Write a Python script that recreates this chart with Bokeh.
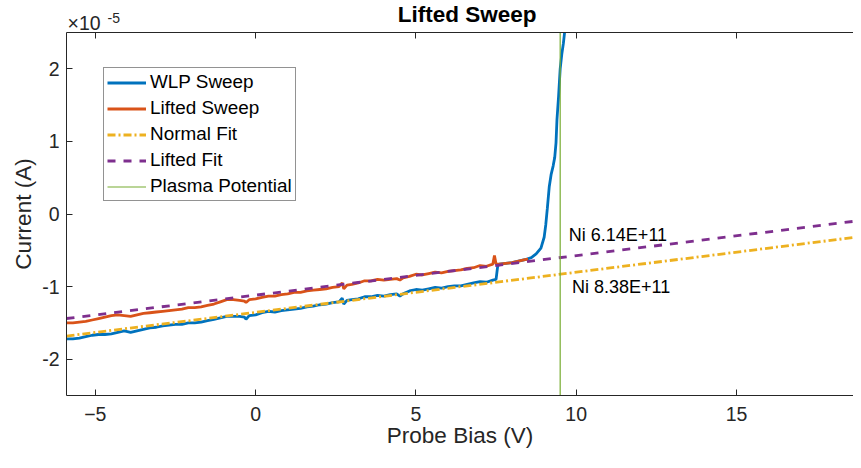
import numpy as np
from bokeh.plotting import figure
from bokeh.layouts import column
from bokeh.models import (Range1d, FixedTicker, CustomJSTickFormatter, LinearAxis,
                          Legend, LegendItem, Label)
from bokeh.embed import file_html
from bokeh.resources import INLINE

# ---------------- data ----------------
CUR_UNIT = 1e-5  # currents below are in units of 1e-5 A

wlp_v = [-5.9, -5.7, -5.5, -5.3, -5.1, -4.9, -4.7, -4.5, -4.3, -4.1, -3.9, -3.7, -3.5, -3.3,
         -3.1, -2.9, -2.7, -2.5, -2.3, -2.1, -1.9, -1.7, -1.5, -1.3, -1.1, -0.9, -0.7, -0.5,
         -0.35, -0.3, -0.2, 0.0, 0.2, 0.4, 0.6, 0.8, 1.0, 1.2, 1.4, 1.6, 1.8, 2.0, 2.2, 2.4,
         2.6, 2.7, 2.75, 2.85, 3.0, 3.2, 3.4, 3.6, 3.8, 4.0, 4.2, 4.4, 4.5, 4.6, 4.8, 5.0,
         5.2, 5.4, 5.6, 5.8, 6.0, 6.2, 6.4, 6.6, 6.8, 7.0, 7.2, 7.4, 7.5, 7.55, 7.6, 7.8,
         8.0, 8.2, 8.4, 8.6, 8.75, 8.9, 9.0, 9.05, 9.1, 9.16, 9.22, 9.28, 9.33, 9.37, 9.4,
         9.45, 9.5, 9.55, 9.6, 9.65, 9.7]
wlp_i = [-1.72, -1.72, -1.71, -1.69, -1.67, -1.66, -1.66, -1.65, -1.63, -1.61, -1.63, -1.61,
         -1.59, -1.57, -1.56, -1.54, -1.53, -1.52, -1.52, -1.50, -1.50, -1.49, -1.47, -1.45,
         -1.43, -1.41, -1.41, -1.41, -1.42, -1.45, -1.40, -1.39, -1.36, -1.34, -1.35, -1.33,
         -1.32, -1.31, -1.30, -1.28, -1.27, -1.25, -1.24, -1.22, -1.21, -1.16, -1.24, -1.19,
         -1.18, -1.17, -1.14, -1.14, -1.12, -1.13, -1.11, -1.10, -1.13, -1.10, -1.06, -1.04,
         -1.05, -1.03, -1.01, -1.02, -1.00, -0.99, -0.99, -0.97, -0.95, -0.93, -0.94, -0.91,
         -0.90, -0.72, -0.69, -0.68, -0.67, -0.65, -0.63, -0.60, -0.55, -0.47, -0.32, -0.15,
         0.08, 0.38, 0.55, 0.66, 0.78, 0.98, 1.30, 1.62, 2.00, 2.20, 2.35, 2.55, 2.90]

lifted_v = [-5.9, -5.7, -5.5, -5.3, -5.1, -4.9, -4.7, -4.5, -4.3, -4.1, -3.9, -3.7, -3.5, -3.3,
            -3.1, -2.9, -2.7, -2.5, -2.3, -2.1, -1.9, -1.7, -1.5, -1.3, -1.1, -0.9, -0.7, -0.5,
            -0.35, -0.3, -0.2, 0.0, 0.2, 0.4, 0.6, 0.8, 1.0, 1.2, 1.4, 1.6, 1.8, 2.0, 2.2, 2.4,
            2.6, 2.7, 2.75, 2.85, 3.0, 3.2, 3.4, 3.6, 3.8, 4.0, 4.2, 4.4, 4.5, 4.6, 4.8, 5.0,
            5.2, 5.4, 5.6, 5.8, 6.0, 6.2, 6.4, 6.6, 6.8, 7.0, 7.2, 7.4, 7.45, 7.5, 7.6, 7.8,
            8.0, 8.2, 8.4, 8.5]
lifted_i = [-1.50, -1.50, -1.49, -1.48, -1.46, -1.44, -1.42, -1.40, -1.39, -1.40, -1.41, -1.39,
            -1.37, -1.36, -1.35, -1.34, -1.33, -1.32, -1.31, -1.29, -1.29, -1.28, -1.26, -1.24,
            -1.21, -1.18, -1.18, -1.19, -1.20, -1.22, -1.18, -1.17, -1.15, -1.13, -1.13, -1.11,
            -1.10, -1.08, -1.08, -1.06, -1.05, -1.04, -1.03, -1.01, -1.00, -0.95, -1.03, -0.98,
            -0.97, -0.95, -0.92, -0.92, -0.90, -0.91, -0.90, -0.89, -0.91, -0.88, -0.86, -0.83,
            -0.84, -0.82, -0.80, -0.81, -0.79, -0.78, -0.77, -0.75, -0.74, -0.71, -0.72, -0.69,
            -0.57, -0.69, -0.69, -0.68, -0.67, -0.65, -0.63, -0.62]

normal_fit_slope, normal_fit_intercept = 0.0553, -1.355   # 1e-5 A per V, 1e-5 A
lifted_fit_slope, lifted_fit_intercept = 0.0545, -1.118
plasma_potential = 9.5

annotations = [("Ni 6.14E+11", 9.77, -0.29), ("Ni 8.38E+11", 9.87, -1.01)]

title_text = "Lifted Sweep"
multiplier_base, multiplier_exp = "×10", "-5"

x_min, x_max = -5.9, 18.65
y_min, y_max = -2.5, 2.5
x_ticks = [-5, 0, 5, 10, 15]
y_ticks = [-2, -1, 0, 1, 2]

# ---------------- colours / fonts / layout ----------------
C_BLUE, C_ORANGE, C_YELLOW, C_PURPLE, C_GREEN = "#0072BD", "#D95319", "#EDB120", "#7E2F8E", "#77AC30"
AX = "#262626"
FONT = "Liberation Sans"

W = 853
HEAD_H = 32          # band above the axes box (title + exponent), pixel units
MAIN_H = 420
BL, BB = 66, 57
TITLE_X = 6.6        # horizontal centre of the title, in x data units

x_range = Range1d(x_min, x_max)

# ---------------- main axes ----------------
p = figure(width=W, height=MAIN_H, output_backend="svg", toolbar_location=None,
           x_range=x_range, y_range=Range1d(y_min * CUR_UNIT, y_max * CUR_UNIT),
           min_border_left=BL, min_border_right=0, min_border_top=0, min_border_bottom=BB)
p.outline_line_color = None
p.grid.visible = False
p.background_fill_color = "white"
p.border_fill_color = "white"

def style_axis(ax):
    ax.major_tick_in = 6
    ax.major_tick_out = 0
    ax.minor_tick_line_color = None
    ax.axis_line_color = AX
    ax.major_tick_line_color = AX
    ax.major_label_text_color = AX
    ax.major_label_text_font = FONT
    ax.major_label_text_font_size = "19.5px"
    ax.axis_label_text_font = FONT
    ax.axis_label_text_font_size = "22.5px"
    ax.axis_label_text_font_style = "normal"
    ax.axis_label_text_color = AX

xa = p.xaxis[0]
style_axis(xa)
xa.ticker = FixedTicker(ticks=x_ticks)
xa.axis_label = "Probe Bias (V)"
xa.major_label_standoff = 11
xa.axis_label_standoff = -1

ya = p.yaxis[0]
style_axis(ya)
ya.ticker = FixedTicker(ticks=[t * CUR_UNIT for t in y_ticks])
ya.formatter = CustomJSTickFormatter(code="return String(Math.round(tick*1e5));")
ya.axis_label = "Current (A)"
ya.major_label_standoff = 7
ya.axis_label_standoff = 3

top = LinearAxis(ticker=FixedTicker(ticks=x_ticks),
                 formatter=CustomJSTickFormatter(code="return '';"))
style_axis(top)
top.major_label_text_font_size = "0px"
top.major_label_standoff = 0
p.add_layout(top, "above")

wv = np.array(wlp_v); wi = np.array(wlp_i) * CUR_UNIT
lv = np.array(lifted_v); li = np.array(lifted_i) * CUR_UNIT
fx = np.array([x_min, x_max])
nf = (normal_fit_intercept + normal_fit_slope * fx) * CUR_UNIT
lf = (lifted_fit_intercept + lifted_fit_slope * fx) * CUR_UNIT

r1 = p.line(wv, wi, line_color=C_BLUE, line_width=2.8)
r2 = p.line(lv, li, line_color=C_ORANGE, line_width=2.8)
r3 = p.line(fx, nf, line_color=C_YELLOW, line_width=2.8, line_dash="8 3 2 3")
r4 = p.line(fx, lf, line_color=C_PURPLE, line_width=2.8, line_dash="8 8")
r5 = p.line([plasma_potential, plasma_potential], [y_min * CUR_UNIT, y_max * CUR_UNIT],
            line_color=C_GREEN, line_width=1.2)

for txt, xv, yv in annotations:
    p.add_layout(Label(x=xv, y=yv * CUR_UNIT, text=txt, text_font=FONT, text_font_size="18px",
                       text_color="black", text_baseline="middle", text_align="left"))

legend = Legend(items=[LegendItem(label="WLP Sweep", renderers=[r1]),
                       LegendItem(label="Lifted Sweep", renderers=[r2]),
                       LegendItem(label="Normal Fit", renderers=[r3]),
                       LegendItem(label="Lifted Fit", renderers=[r4]),
                       LegendItem(label="Plasma Potential", renderers=[r5])],
                location=(37, 194), label_text_font=FONT, label_text_font_size="18.9px",
                label_text_color="black", border_line_color=AX, border_line_width=1,
                padding=3, spacing=4, glyph_width=39, glyph_height=21, label_height=21,
                label_standoff=4, margin=0, background_fill_alpha=1.0)
p.add_layout(legend)

# ---------------- header band: title and y exponent ----------------
head = figure(width=W, height=HEAD_H, output_backend="svg", toolbar_location=None,
              x_range=x_range, y_range=Range1d(0, HEAD_H), x_axis_type=None, y_axis_type=None,
              min_border_left=BL, min_border_right=0, min_border_top=0, min_border_bottom=0)
head.title.visible = False
head.outline_line_color = None
head.background_fill_color = "white"
head.border_fill_color = "white"

head.add_layout(Label(x=TITLE_X, y=18.5, text=title_text, text_font=FONT,
                      text_font_size="22.5px", text_font_style="bold", text_color="black",
                      text_align="center", text_baseline="alphabetic"))
head.add_layout(Label(x=x_min, y=10, x_offset=1, text=multiplier_base, text_font=FONT,
                      text_font_size="19.5px", text_color=AX,
                      text_align="left", text_baseline="alphabetic"))
head.add_layout(Label(x=x_min, y=14.5, x_offset=41, text=multiplier_exp, text_font=FONT,
                      text_font_size="14px", text_color=AX,
                      text_align="left", text_baseline="alphabetic"))

layout = column(head, p, spacing=0)
open("out.html", "w").write(file_html(layout, INLINE))
